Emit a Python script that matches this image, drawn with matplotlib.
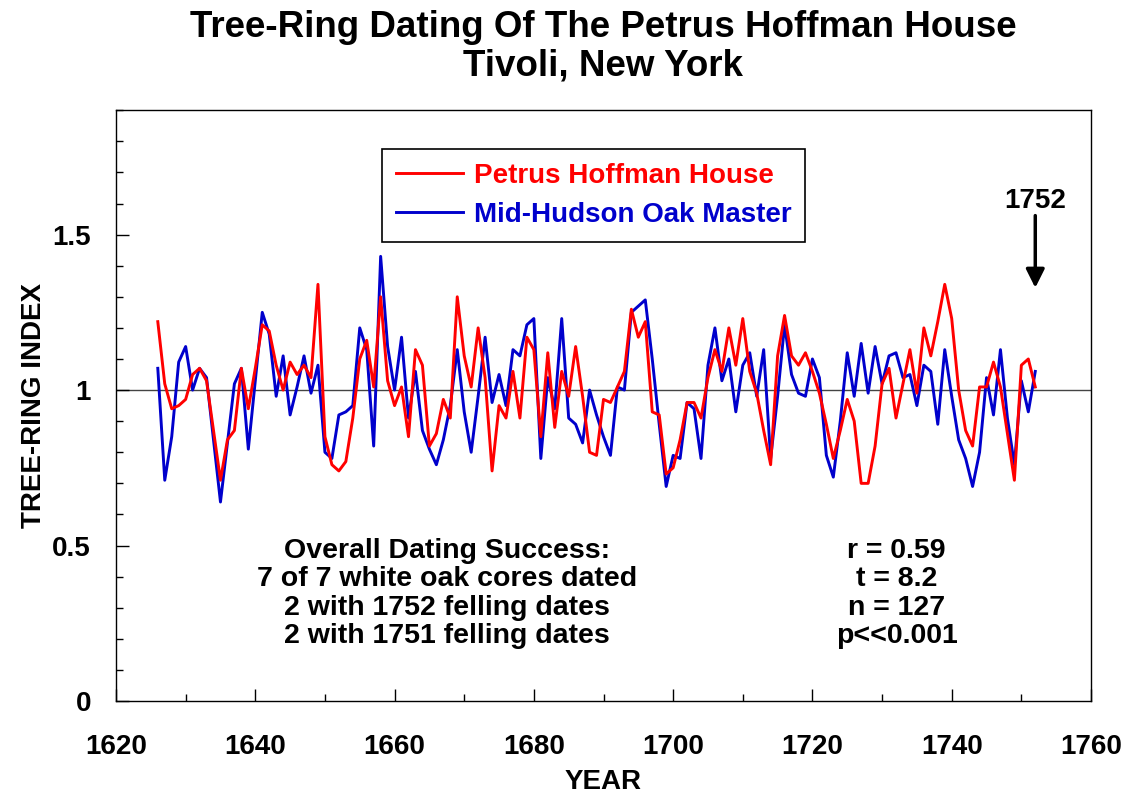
import numpy as np
from matplotlib import pyplot as plt
from matplotlib.ticker import MultipleLocator

plt.rcParams['font.family'] = ['Liberation Sans', 'DejaVu Sans']
plt.rcParams['font.weight'] = 'bold'

# Petrus Hoffman House chronology, 1626-1752 (one value per year, by decade)
first_year = 1626
hoffman = [
    1.22, 1.02, 0.94, 0.95,                                          # 1626-29
    0.97, 1.05, 1.07, 1.03, 0.87, 0.71, 0.84, 0.87, 1.07, 0.94,      # 1630s
    1.07, 1.21, 1.19, 1.08, 1.00, 1.09, 1.05, 1.08, 1.04, 1.34,      # 1640s
    0.85, 0.76, 0.74, 0.77, 0.91, 1.10, 1.16, 1.01, 1.30, 1.03,      # 1650s
    0.95, 1.01, 0.85, 1.13, 1.08, 0.82, 0.86, 0.97, 0.91, 1.30,      # 1660s
    1.11, 1.01, 1.20, 1.04, 0.74, 0.95, 0.91, 1.06, 0.91, 1.17,      # 1670s
    1.13, 0.85, 1.12, 0.88, 1.06, 0.98, 1.14, 0.98, 0.80, 0.79,      # 1680s
    0.97, 0.96, 1.01, 1.06, 1.26, 1.17, 1.22, 0.93, 0.92, 0.73,      # 1690s
    0.75, 0.84, 0.96, 0.96, 0.91, 1.04, 1.13, 1.06, 1.20, 1.08,      # 1700s
    1.23, 1.06, 0.99, 0.87, 0.76, 1.11, 1.24, 1.11, 1.08, 1.12,      # 1710s
    1.06, 0.99, 0.89, 0.78, 0.87, 0.97, 0.90, 0.70, 0.70, 0.82,      # 1720s
    1.02, 1.07, 0.91, 1.02, 1.13, 0.99, 1.20, 1.11, 1.22, 1.34,      # 1730s
    1.23, 1.00, 0.87, 0.82, 1.01, 1.01, 1.09, 1.01, 0.86, 0.71,      # 1740s
    1.08, 1.10, 1.01,                                                # 1750-52
]
# Mid-Hudson oak master chronology, same years
master = [
    1.07, 0.71, 0.85, 1.09,
    1.14, 1.00, 1.07, 1.04, 0.84, 0.64, 0.83, 1.02, 1.07, 0.81,
    1.03, 1.25, 1.18, 0.98, 1.11, 0.92, 1.01, 1.11, 0.99, 1.08,
    0.80, 0.78, 0.92, 0.93, 0.95, 1.20, 1.13, 0.82, 1.43, 1.14,
    1.00, 1.17, 0.91, 1.06, 0.87, 0.81, 0.76, 0.84, 0.95, 1.13,
    0.93, 0.80, 0.98, 1.17, 0.96, 1.05, 0.95, 1.13, 1.11, 1.21,
    1.23, 0.78, 1.04, 0.94, 1.23, 0.91, 0.89, 0.83, 1.00, 0.92,
    0.85, 0.79, 1.01, 1.00, 1.25, 1.27, 1.29, 1.10, 0.89, 0.69,
    0.79, 0.78, 0.96, 0.94, 0.78, 1.08, 1.20, 1.03, 1.10, 0.93,
    1.08, 1.12, 0.98, 1.13, 0.78, 0.98, 1.21, 1.05, 0.99, 0.98,
    1.10, 1.04, 0.79, 0.72, 0.90, 1.12, 0.98, 1.15, 0.99, 1.14,
    1.02, 1.11, 1.12, 1.04, 1.05, 0.95, 1.08, 1.06, 0.89, 1.13,
    0.98, 0.84, 0.78, 0.69, 0.80, 1.04, 0.92, 1.13, 0.91, 0.76,
    1.03, 0.93, 1.06,
]
years = np.arange(first_year, first_year + len(hoffman))

felling_year = 1752
stats_left = ['Overall Dating Success:', '7 of 7 white oak cores dated',
              '2 with 1752 felling dates', '2 with 1751 felling dates']
stats_right = ['r = 0.59', 't = 8.2', 'n = 127', 'p<<0.001']

fig = plt.figure(figsize=(11.23, 7.93), dpi=100)
ax = fig.add_axes([0.1033, 0.116, 0.8682, 0.745])

ax.axhline(1.0, color='#444444', lw=1, zorder=1)
ax.plot(years, hoffman, color='#ff0000', lw=2.1, label='Petrus Hoffman House', zorder=3)
ax.plot(years, master, color='#0000cc', lw=2.1, label='Mid-Hudson Oak Master', zorder=2)

ax.set_xlim(1620, 1760)
ax.set_ylim(0, 1.9)
ax.xaxis.set_major_locator(MultipleLocator(20))
ax.xaxis.set_minor_locator(MultipleLocator(10))
ax.yaxis.set_major_locator(MultipleLocator(0.5))
ax.yaxis.set_minor_locator(MultipleLocator(0.1))
ax.set_yticks([0, 0.5, 1, 1.5])
ax.set_yticklabels(['0', '0.5', '1', '1.5'])
ax.tick_params(which='both', direction='in', width=1, labelsize=20)
ax.tick_params(which='major', length=9)
ax.tick_params(which='minor', length=5)
ax.tick_params(axis='x', pad=24)
ax.tick_params(axis='y', pad=18)
for s in ax.spines.values():
    s.set_linewidth(1)

ax.set_xlabel('YEAR', fontsize=20, fontweight='bold', labelpad=6)
ax.set_ylabel('TREE-RING INDEX', fontsize=20, fontweight='bold', labelpad=4)

fig.text(0.537, 0.965, 'Tree-Ring Dating Of The Petrus Hoffman House',
         ha='center', va='center', fontsize=26.5, fontweight='bold')
fig.text(0.537, 0.917, 'Tivoli, New York',
         ha='center', va='center', fontsize=26.5, fontweight='bold')

leg = ax.legend(loc='upper left', bbox_to_anchor=(0.273, 0.935), fontsize=20,
                fancybox=False, edgecolor='black', framealpha=1,
                handlelength=2.4, handletextpad=0.4, borderpad=0.5,
                labelspacing=0.48, borderaxespad=0)
leg.get_frame().set_linewidth(1.2)
for txt, line in zip(leg.get_texts(), leg.get_lines()):
    txt.set_color(line.get_color())
    txt.set_fontweight('bold')

ax.annotate('', xy=(felling_year, 1.32), xytext=(felling_year, 1.57),
            arrowprops=dict(arrowstyle='-|>', color='black', lw=2.5,
                            mutation_scale=28))
ax.text(felling_year, 1.607, str(felling_year), ha='center', va='center',
        fontsize=20, fontweight='bold')

for i, (a, b) in enumerate(zip(stats_left, stats_right)):
    y = 0.483 - i * 0.0915
    ax.text(1667.5, y, a, ha='center', va='center', fontsize=20.5, fontweight='bold')
    ax.text(1732.1, y, b, ha='center', va='center', fontsize=20.5, fontweight='bold')

fig.savefig('out.png', dpi=100)
